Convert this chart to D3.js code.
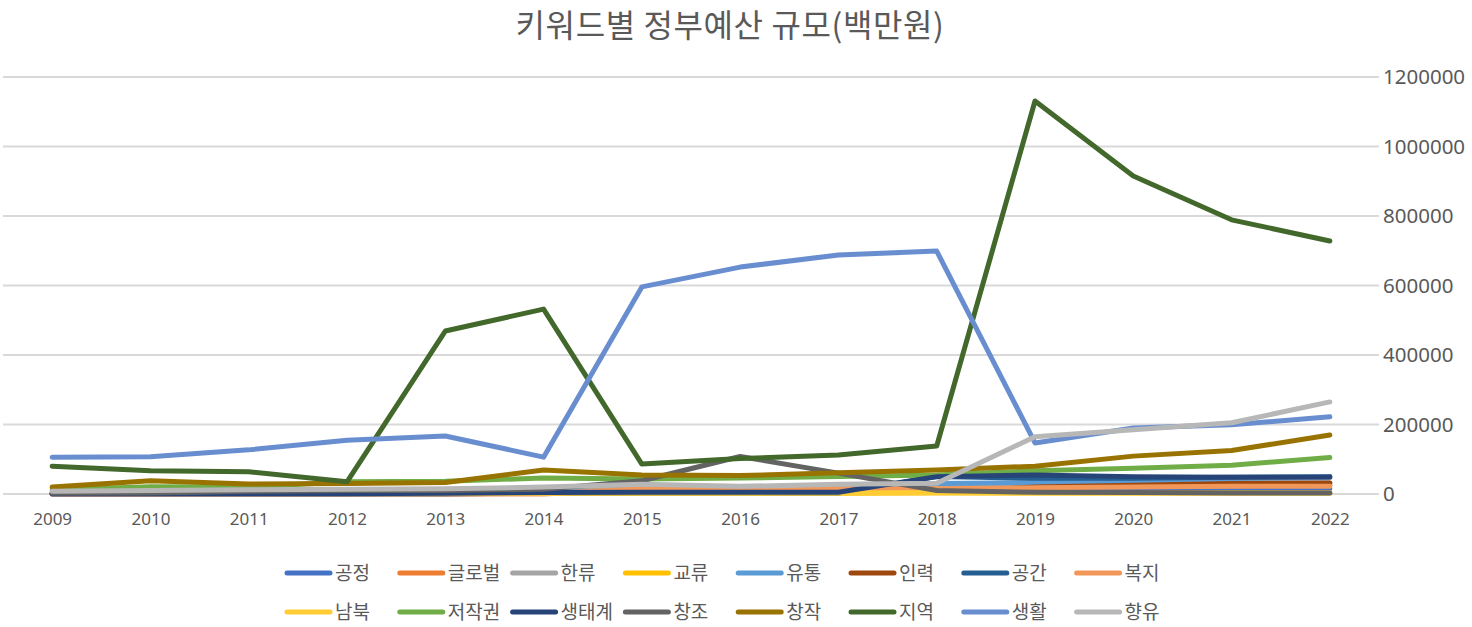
<!DOCTYPE html>
<html>
<head>
<meta charset="utf-8">
<script src="https://cdn.jsdelivr.net/npm/d3@7"></script>
<style>
  body { margin: 0; background: #fff; }
  svg { display: block; }
</style>
</head>
<body>
<svg id="chart" width="1472" height="627"></svg>
<script>
// years on the category axis
var years = ["2009","2010","2011","2012","2013","2014","2015","2016","2017","2018","2019","2020","2021","2022"];
var yTicks = [0, 200000, 400000, 600000, 800000, 1000000, 1200000];

// series, in legend order
var names = ["공정","글로벌","한류","교류","유통","인력","공간","복지","남북","저작권","생태계","창조","창작","지역","생활","향유"];
var colors = ["#4472C4","#ED7D31","#A5A5A5","#FFC000","#5B9BD5","#9E480E","#255E91","#F1975A",
              "#FFCD33","#70AD47","#264478","#636363","#997300","#43682B","#698ED0","#B7B7B7"];

var gongjeong = [1000,1000,1500,2000,2000,3000,4000,4000,5000,8000,10000,12000,13000,15000];
var global    = [2000,2000,3000,3000,4000,5000,8000,10000,12000,15000,20000,22000,24000,25000];
var hallyu    = [5000,6000,8000,9000,10000,12000,15000,17000,18000,20000,22000,22000,24000,25000];
var gyoryu    = [3000,3000,3000,3000,3000,3000,3000,3000,2000,3000,3000,3000,3000,3000];
var yutong    = [2000,2000,3000,3000,4000,5000,6000,6000,8000,30000,33000,35000,33000,32000];
var inryeok   = [1000,1000,1000,1000,1000,2000,3000,3000,4000,5000,20000,25000,30000,32000];
var gonggan   = [0,0,0,0,0,3000,3000,3000,3000,50000,45000,45000,48000,50000];
var bokji     = [0,0,0,0,0,0,15000,15000,15000,15000,18000,20000,22000,22000];
var nambuk    = [2000,2000,2000,2000,2000,2000,2000,2000,3000,4000,3000,3000,3000,3000];
var jeojak    = [12000,21000,20000,35000,37000,46000,43000,46000,50000,55000,67000,74000,83000,105000];
var saengtae  = [500,500,1000,1000,2000,4000,5000,5000,5000,50000,55000,50000,48000,48000];
var changjo   = [2000,3000,8000,10000,10000,14000,38000,108000,60000,10000,5000,4000,3000,3000];
var changjak  = [20000,38000,29000,30000,33000,69000,55000,53000,61000,69000,80000,109000,125000,170000];
var jiyeok    = [80000,67000,64000,35000,469000,532000,86000,102000,112000,138000,1131000,915000,789000,728000];
var saenghwal = [106000,107000,127000,155000,167000,106000,596000,653000,688000,699000,147000,190000,199000,222000];
var hyangyu   = [8000,10000,12000,14000,15000,20000,28000,22000,28000,31000,165000,185000,205000,265000];

var seriesValues = [gongjeong, global, hallyu, gyoryu, yutong, inryeok, gonggan, bokji,
                    nambuk, jeojak, saengtae, changjo, changjak, jiyeok, saenghwal, hyangyu];

var svg = d3.select("#chart");
var textColor = "#595959";

var x = d3.scalePoint().domain(years).range([3, 1379]).padding(0.5);
var y = d3.scaleLinear().domain([0, 1200000]).range([494, 77]);

// title
svg.append("text")
  .attr("x", 730).attr("y", 37)
  .attr("text-anchor", "middle")
  .attr("font-family", "'Noto Sans CJK KR', sans-serif")
  .attr("font-size", "32px")
  .attr("letter-spacing", "0.6px")
  .attr("fill", textColor)
  .text("키워드별 정부예산 규모(백만원)");

// gridlines
svg.append("g").selectAll("line")
  .data(yTicks)
  .join("line")
  .attr("x1", 3).attr("x2", 1379)
  .attr("y1", function(d) { return y(d); })
  .attr("y2", function(d) { return y(d); })
  .attr("stroke", "#D9D9D9")
  .attr("stroke-width", 2);

// right value axis
var yAxis = d3.axisRight(y).tickValues(yTicks).tickSize(0).tickPadding(0).tickFormat(d3.format("d"));
var gy = svg.append("g").attr("transform", "translate(1383,0)").call(yAxis);
gy.select(".domain").remove();
gy.selectAll("text")
  .attr("font-family", "'Noto Sans', sans-serif")
  .attr("font-size", "20.5px")
  .attr("fill", textColor);

// category axis
var xAxis = d3.axisBottom(x).tickSize(0).tickPadding(0);
var gx = svg.append("g").attr("transform", "translate(0,513)").call(xAxis);
gx.select(".domain").remove();
gx.selectAll("text")
  .attr("font-family", "'Noto Sans', sans-serif")
  .attr("font-size", "17px")
  .attr("fill", textColor);

// lines
var line = d3.line()
  .x(function(d, i) { return x(years[i]); })
  .y(function(d) { return y(d); });

svg.append("g").selectAll("path")
  .data(seriesValues)
  .join("path")
  .attr("d", line)
  .attr("fill", "none")
  .attr("stroke", function(d, i) { return colors[i]; })
  .attr("stroke-width", 5)
  .attr("stroke-linejoin", "round")
  .attr("stroke-linecap", "round");

// legend
var legend = svg.append("g");
names.forEach(function(name, i) {
  var col = i % 8, row = Math.floor(i / 8);
  var lx = 285 + col * 112.8, ly = 573 + row * 39;
  legend.append("line")
    .attr("x1", lx + 2).attr("x2", lx + 45)
    .attr("y1", ly).attr("y2", ly)
    .attr("stroke", colors[i])
    .attr("stroke-width", 5)
    .attr("stroke-linecap", "round");
  legend.append("text")
    .attr("x", lx + 50).attr("y", ly)
    .attr("dy", "0.35em")
    .attr("font-family", "'Noto Sans CJK KR', sans-serif")
    .attr("font-size", "19px")
    .attr("fill", textColor)
    .text(name);
});
</script>
</body>
</html>
